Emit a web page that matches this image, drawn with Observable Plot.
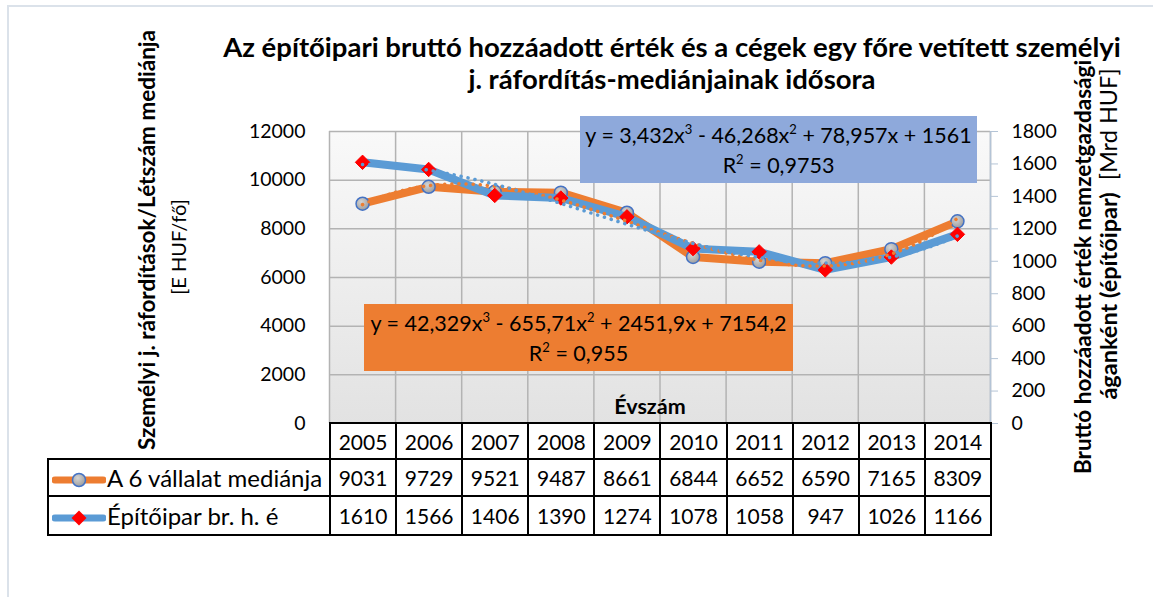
<!DOCTYPE html>
<html><head><meta charset="utf-8">
<script src="https://cdn.jsdelivr.net/npm/d3@7"></script>
<script src="https://cdn.jsdelivr.net/npm/@observablehq/plot@0.6"></script>
<style>
body{margin:0;background:#fff;font-family:Lato,sans-serif;color:#000;}
#wrap{position:relative;width:1153px;height:597px;overflow:hidden;background:#fff;}
#chart{position:absolute;left:0;top:0;}
.abs{position:absolute;white-space:nowrap;}
.frameL{position:absolute;left:7px;top:6px;width:2px;height:600px;background:#dbe2ea;}
.frameT{position:absolute;left:7px;top:5px;width:1150px;height:2px;background:#dbe2ea;}
#title{left:122px;top:31px;width:1100px;text-align:center;font-weight:bold;font-size:27.5px;line-height:32px;}
.rot{transform:translate(-50%,-50%) rotate(-90deg);transform-origin:50% 50%;line-height:1.2;}
.eq{position:absolute;text-align:center;font-size:21.5px;line-height:30px;padding-top:4px;box-sizing:border-box;}
.eq sup{font-size:13px;vertical-align:9px;line-height:0;}
#tbl{position:absolute;left:47px;top:422px;border-collapse:collapse;table-layout:fixed;font-size:21px;}
#tbl td{border:2px solid #000;text-align:center;padding:0;white-space:nowrap;}
#tbl td.lg{text-align:left;padding-left:3px;font-size:24px;}
#tbl td.blank{border:none;}
</style></head><body>
<div id="wrap">
<div id="chart"></div>
<div class="frameL"></div><div class="frameT"></div>
<div id="title" class="abs"></div>
<div id="ltitle1" class="abs rot" style="left:146px;top:240px;font-weight:bold;font-size:22.5px;"></div>
<div id="ltitle2" class="abs rot" style="left:178px;top:247px;font-size:20px;"></div>
<div id="rtitle1" class="abs rot" style="left:1082px;top:267px;font-weight:bold;font-size:22.5px;"></div>
<div id="rtitle2" class="abs rot" style="left:1108px;top:234px;font-size:23.5px;"></div>
<div id="xtitle" class="abs" style="left:550px;top:393px;width:200px;text-align:center;font-weight:bold;font-size:21.5px;"></div>
<div id="eqBlue" class="eq" style="left:580px;top:116px;width:397px;height:67px;background:#8EA9DB;"></div>
<div id="eqOrange" class="eq" style="left:364px;top:304px;width:429px;height:67px;background:#ED7D31;"></div>
<table id="tbl"></table>
</div>
<script>
// ---- data ----
const years = [2005, 2006, 2007, 2008, 2009, 2010, 2011, 2012, 2013, 2014];
const medianValues = [9031, 9729, 9521, 9487, 8661, 6844, 6652, 6590, 7165, 8309];
const constructionValues = [1610, 1566, 1406, 1390, 1274, 1078, 1058, 947, 1026, 1166];
const leftTicks = [0, 2000, 4000, 6000, 8000, 10000, 12000];
const rightTicks = [0, 200, 400, 600, 800, 1000, 1200, 1400, 1600, 1800];
const seriesNames = ["A 6 vállalat mediánja", "Építőipar br. h. é"];
// cubic trendline coefficients shown in the chart (x = 1..10)
const medianTrendCoef = [42.329, -655.71, 2451.9, 7154.2];
const constructionTrendCoef = [3.432, -46.268, 78.957, 1561];
const medianEq = ["y = 42,329x<sup>3</sup> - 655,71x<sup>2</sup> + 2451,9x + 7154,2", "R<sup>2</sup> = 0,955"];
const constructionEq = ["y = 3,432x<sup>3</sup> - 46,268x<sup>2</sup> + 78,957x + 1561", "R<sup>2</sup> = 0,9753"];
const titleLines = ["Az építőipari bruttó hozzáadott érték és a cégek egy főre vetített személyi", "j. ráfordítás-mediánjainak idősora"];
const leftTitle = ["Személyi j. ráfordítások/Létszám mediánja", "[E HUF/fő]"];
const rightTitle = ["Bruttó hozzáadott érték nemzetgazdasági", "áganként (építőipar)  [Mrd HUF]"];
const xTitle = "Évszám";

const orange = "#ED7D31", blue = "#5B9BD5";
const k = 12000 / 1800; // right axis -> left axis
const medianRows = years.map((y, i) => ({year: y, value: medianValues[i]}));
const constRows = years.map((y, i) => ({year: y, value: constructionValues[i] * k}));
const boundaries = years.map(y => y - 0.5).concat([years[years.length - 1] + 0.5]);
const poly = (c, t) => c[0]*t*t*t + c[1]*t*t + c[2]*t + c[3];
const trendT = d3.range(1, 10.001, 0.05);
const medianTrend = trendT.map(t => ({year: years[0] - 1 + t, value: poly(medianTrendCoef, t)}));
const constTrend = trendT.map(t => ({year: years[0] - 1 + t, value: poly(constructionTrendCoef, t) * k}));

const svg = Plot.plot({
  width: 1153, height: 597,
  marginLeft: 329, marginRight: 163, marginTop: 131, marginBottom: 174,
  x: {type: "linear", domain: [years[0] - 0.5, years[years.length - 1] + 0.5], axis: null},
  y: {domain: [0, 12000], axis: null},
  style: {fontFamily: "Lato, sans-serif", fontSize: "19.5px", color: "#000", background: "transparent", overflow: "visible"},
  marks: [
    Plot.frame({fill: "url(#bgGrad)", stroke: null}),
    Plot.ruleY(leftTicks.slice(1), {stroke: "#b3b3b3", strokeWidth: 1.5}),
    Plot.ruleX(boundaries, {stroke: "#b3b3b3", strokeWidth: 1.5}),
    Plot.ruleX([boundaries[boundaries.length - 1]], {stroke: "#b4c4d6", strokeWidth: 1.5}),
    Plot.axisY({anchor: "left", label: null, ticks: leftTicks, tickFormat: d => String(d), tickSize: 0, tickPadding: 24, fontSize: 19.5}),
    Plot.axisY({anchor: "right", label: null, ticks: rightTicks.map(v => v * k), tickFormat: d => String(Math.round(d / k)),
      tickSize: 7, tickPadding: 14, stroke: "#b4c4d6", fill: "#000", fontSize: 19.5}),
    Plot.line(medianRows, {x: "year", y: "value", stroke: orange, strokeWidth: 8, strokeLinejoin: "round"}),
    Plot.dot(medianRows, {x: "year", y: "value", r: 6.5, fill: "url(#dotGrad)", stroke: "#4472C4", strokeWidth: 1.5}),
    Plot.line(constRows, {x: "year", y: "value", stroke: blue, strokeWidth: 8, strokeLinejoin: "round"}),
    Plot.dot(constRows, {x: "year", y: "value", symbol: "diamond2", r: 6.5, fill: "#FF0000", stroke: "#FF0000", strokeWidth: 1}),
    Plot.line(medianTrend, {x: "year", y: "value", stroke: orange, strokeWidth: 3.5, strokeDasharray: "0.1 7", strokeLinecap: "round"}),
    Plot.line(constTrend, {x: "year", y: "value", stroke: blue, strokeWidth: 3.5, strokeDasharray: "0.1 7", strokeLinecap: "round"})
  ]
});
d3.select(svg).insert("defs", ":first-child").html(
  '<linearGradient id="bgGrad" x1="0" y1="0" x2="0" y2="1"><stop offset="0" stop-color="#f9f9f9"/><stop offset="1" stop-color="#e2e2e2"/></linearGradient>' +
  '<radialGradient id="dotGrad" cx="0.4" cy="0.35" r="0.7"><stop offset="0" stop-color="#d4d4d4"/><stop offset="1" stop-color="#9a9a9a"/></radialGradient>');
document.getElementById("chart").appendChild(svg);

document.getElementById("title").innerHTML = titleLines.join("<br>");
document.getElementById("ltitle1").textContent = leftTitle[0];
document.getElementById("ltitle2").textContent = leftTitle[1];
document.getElementById("rtitle1").textContent = rightTitle[0];
const rt2 = rightTitle[1].split("  ");
document.getElementById("rtitle2").innerHTML = '<b>' + rt2[0] + '</b>&nbsp; ' + rt2[1];
document.getElementById("xtitle").textContent = xTitle;
document.getElementById("eqBlue").innerHTML = constructionEq.join("<br>");
document.getElementById("eqOrange").innerHTML = medianEq.join("<br>");

// data table
const key = (sym) => `<svg width="54" height="20" style="vertical-align:-3px;margin-right:1px">` +
  (sym === "circle"
    ? `<line x1="3" y1="10" x2="51" y2="10" stroke="${orange}" stroke-width="7" stroke-linecap="round"/><circle cx="27" cy="10" r="6.5" fill="url(#dotGrad)" stroke="#4472C4" stroke-width="1.5"/>`
    : `<line x1="3" y1="10" x2="51" y2="10" stroke="${blue}" stroke-width="7" stroke-linecap="round"/><path d="M27,2.5L34.5,10L27,17.5L19.5,10Z" fill="#FF0000"/>`) + `</svg>`;
let html = '<colgroup><col style="width:282px">' + years.map(() => '<col style="width:66.1px">').join("") + '</colgroup>';
html += '<tr style="height:36px"><td class="blank"></td>' + years.map(y => `<td>${y}</td>`).join("") + '</tr>';
html += `<tr style="height:37px"><td class="lg">${key("circle")}${seriesNames[0]}</td>` + medianValues.map(v => `<td>${v}</td>`).join("") + '</tr>';
html += `<tr style="height:39px"><td class="lg">${key("diamond")}${seriesNames[1]}</td>` + constructionValues.map(v => `<td>${v}</td>`).join("") + '</tr>';
document.getElementById("tbl").innerHTML = html;
</script>
</body></html>
